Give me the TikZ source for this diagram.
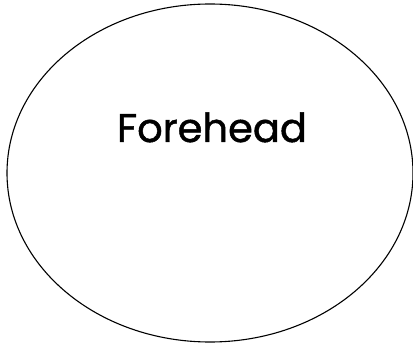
\documentclass[tikz,border=0pt]{standalone}
\usepackage{fontspec}
\usetikzlibrary{shapes.geometric}
\newfontfamily\labelfont[FakeBold=1.2]{Poppins}
\begin{document}
\begin{tikzpicture}[x=1pt,y=1pt,
  facebox/.style={draw=black, line width=1.1pt, ellipse, minimum width=406pt, minimum height=338pt, inner sep=0pt},
  labeltext/.style={font=\labelfont\fontsize{40}{48}\selectfont, anchor=base, inner sep=0pt}]
\useasboundingbox (0,0) rectangle (413,346);
\node[facebox] (face) at (210,173) {};
\node[labeltext] (lbl) at (212,204) {Forehead};
\end{tikzpicture}
\end{document}
